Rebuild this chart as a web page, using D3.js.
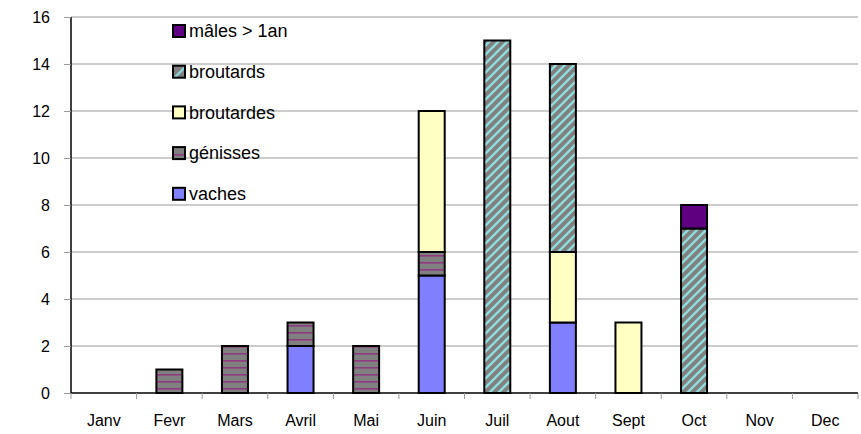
<!DOCTYPE html>
<html>
<head>
<meta charset="utf-8">
<script src="https://cdn.jsdelivr.net/npm/d3@7"></script>
<style>
  body { margin: 0; background: #fff; }
  svg { display: block; font-family: 'Liberation Sans', Arial, sans-serif; }
</style>
</head>
<body>
<svg width="861" height="434"></svg>
<script>
// data
var months = ['Janv','Fevr','Mars','Avril','Mai','Juin','Juil','Aout','Sept','Oct','Nov','Dec'];
var series = ['vaches','génisses','broutardes','broutards','mâles > 1an'];
var vaches     = [0,0,0,2,0,5,0,3,0,0,0,0];
var genisses   = [0,1,2,1,2,1,0,0,0,0,0,0];
var broutardes = [0,0,0,0,0,6,0,3,3,0,0,0];
var broutards  = [0,0,0,0,0,0,15,8,0,7,0,0];
var males      = [0,0,0,0,0,0,0,0,0,1,0,0];
var yTicks = [0,2,4,6,8,10,12,14,16];

var values = [vaches, genisses, broutardes, broutards, males];
var fills = ['#8080ff','url(#genP)','#ffffc4','url(#broP)','#5f0080'];
var legendFills = ['#8080ff','url(#genL)','#ffffc4','url(#broL)','#5f0080'];

var svg = d3.select('svg');
var pLeft = 71, pRight = 858, pTop = 17, pBottom = 393;

// patterns
var defs = svg.append('defs');
var gp = defs.append('pattern').attr('id','genP').attr('patternUnits','userSpaceOnUse')
  .attr('width', 8).attr('height', 7).attr('y', pBottom);
gp.append('rect').attr('width', 8).attr('height', 7).attr('fill', '#808080');
gp.append('rect').attr('y', 2).attr('width', 8).attr('height', 1.6).attr('fill', '#8e3a80');

var bp = defs.append('pattern').attr('id','broP').attr('patternUnits','userSpaceOnUse')
  .attr('width', 9).attr('height', 9);
bp.append('rect').attr('width', 9).attr('height', 9).attr('fill', '#808080');
bp.append('path').attr('d','M-2,2 L2,-2 M0,9 L9,0 M7,11 L11,7')
  .attr('stroke', '#8fdcdc').attr('stroke-width', 2.4);

var gl = defs.append('pattern').attr('id','genL').attr('patternUnits','objectBoundingBox')
  .attr('width', 1).attr('height', 1);
gl.append('rect').attr('width', 12).attr('height', 12).attr('fill', '#808080');
gl.append('rect').attr('y', 7).attr('width', 12).attr('height', 1.5).attr('fill', '#8e3a80');

var bl = defs.append('pattern').attr('id','broL').attr('patternUnits','objectBoundingBox')
  .attr('width', 1).attr('height', 1);
bl.append('rect').attr('width', 12).attr('height', 12).attr('fill', '#808080');
bl.append('path').attr('d','M0,12 L12,12 L12,0 Z').attr('fill', '#8fdcdc');
bl.append('path').attr('d','M3,12 L12,12 L12,3 Z').attr('fill', '#808080');

// scales
var x = d3.scaleBand().domain(months).range([pLeft, pRight]);
var y = d3.scaleLinear().domain([0, 16]).range([pBottom, pTop]);

// gridlines
svg.append('g').selectAll('line').data(yTicks.slice(1)).enter().append('line')
  .attr('x1', pLeft).attr('x2', pRight)
  .attr('y1', d => y(d)).attr('y2', d => y(d))
  .attr('stroke', '#999').attr('stroke-width', 1.2);

// y axis
var yAxis = svg.append('g').attr('transform', 'translate(' + pLeft + ',0)')
  .call(d3.axisLeft(y).tickValues(yTicks).tickSize(7).tickPadding(14));
yAxis.select('.domain').attr('stroke', '#000').attr('stroke-width', 1.5).attr('d', 'M0,' + pTop + 'V' + pBottom);
yAxis.selectAll('.tick line').attr('stroke', '#999');
yAxis.selectAll('.tick text').attr('font-size', 16).attr('fill', '#000')
  .attr('font-family', "'Liberation Sans', Arial, sans-serif");

// x axis
var xAxis = svg.append('g').attr('transform', 'translate(0,' + pBottom + ')')
  .call(d3.axisBottom(x).tickSize(0).tickPadding(22));
xAxis.select('.domain').attr('stroke', '#000').attr('stroke-width', 1.5).attr('d', 'M' + pLeft + ',0H' + pRight);
xAxis.selectAll('.tick text').attr('font-size', 16).attr('fill', '#000')
  .attr('font-family', "'Liberation Sans', Arial, sans-serif");
// tick marks at the band boundaries
var bounds = [x(months[0])].concat(months.map(d => x(d) + x.bandwidth()));
svg.append('g').selectAll('line').data(bounds).enter().append('line')
  .attr('x1', d => d).attr('x2', d => d)
  .attr('y1', pBottom).attr('y2', pBottom + 6)
  .attr('stroke', '#999');

// stacked bars
var table = months.map(function(m, i) {
  var row = { month: m };
  series.forEach(function(s, j) { row[s] = values[j][i]; });
  return row;
});
var stacked = d3.stack().keys(series)(table);
var bw = 26;
stacked.forEach(function(layer, j) {
  svg.append('g').selectAll('rect')
    .data(layer.filter(d => d[1] - d[0] > 0))
    .enter().append('rect')
    .attr('x', d => x(d.data.month) + x.bandwidth() / 2 - bw / 2)
    .attr('width', bw)
    .attr('y', d => y(d[1]))
    .attr('height', d => y(d[0]) - y(d[1]))
    .attr('fill', fills[j])
    .attr('stroke', '#000').attr('stroke-width', 2);
});

// legend
var legend = svg.append('g').attr('transform', 'translate(173,31)');
var items = series.slice().reverse();
var lf = legendFills.slice().reverse();
items.forEach(function(s, i) {
  var g = legend.append('g').attr('transform', 'translate(0,' + (i * 40.7) + ')');
  g.append('rect').attr('x', 0).attr('y', -6).attr('width', 12).attr('height', 12)
    .attr('fill', lf[i]).attr('stroke', '#000').attr('stroke-width', 2);
  g.append('text').attr('x', 16).attr('y', 0).attr('dy', '0.35em')
    .attr('font-size', 18).attr('fill', '#000').text(s);
});
</script>
</body>
</html>
